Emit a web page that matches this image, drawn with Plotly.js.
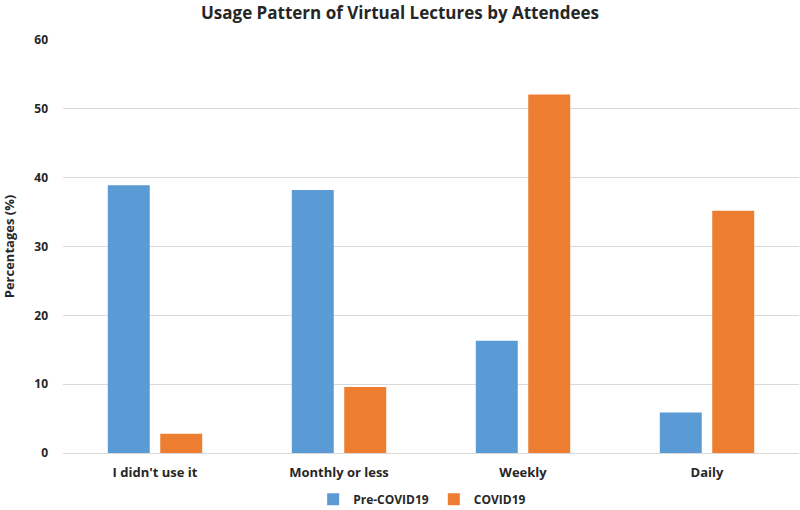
<!DOCTYPE html>
<html>
<head>
<meta charset="utf-8">
<script src="https://cdn.plot.ly/plotly-3.0.1.min.js"></script>
<style>
  html, body { margin: 0; padding: 0; background: #fff; }
  #chart { width: 800px; height: 510px; }
</style>
</head>
<body>
<div id="chart"></div>
<script>
// ---------- data ----------
const categories = ["I didn't use it", "Monthly or less", "Weekly", "Daily"];
const preCovid = [38.9, 38.2, 16.3, 5.9];
const covid = [2.8, 9.6, 52.1, 35.2];
const seriesNames = ["Pre-COVID19", "COVID19"];
const yTicks = [0, 10, 20, 30, 40, 50, 60];

// ---------- style ----------
const fontFam = "'Open Sans', 'Liberation Sans', sans-serif";
const textCol = "#262626";

const traces = [
  {
    type: "bar",
    name: seriesNames[0],
    x: categories,
    y: preCovid,
    marker: { color: "#5B9BD5" }
  },
  {
    type: "bar",
    name: seriesNames[1],
    x: categories,
    y: covid,
    marker: { color: "#ED7D31" }
  }
];

const layout = {
  width: 800,
  height: 510,
  paper_bgcolor: "#fff",
  plot_bgcolor: "#fff",
  margin: { l: 63, r: 1, t: 40, b: 57, autoexpand: false },
  font: { family: fontFam, color: textCol, size: 12 },
  title: {
    text: "Usage Pattern of Virtual Lectures by Attendees",
    x: 0.5,
    xanchor: "center",
    y: 0.975,
    yanchor: "middle",
    font: { family: fontFam, size: 17, weight: "bold", color: textCol }
  },
  barmode: "group",
  bargap: 0.43,
  bargroupgap: 0.2,
  xaxis: {
    type: "category",
    automargin: false,
    showgrid: false,
    showline: false,
    ticks: "",
    ticklabelstandoff: 10,
    tickfont: { size: 13, weight: "bold", color: textCol }
  },
  yaxis: {
    range: [0, 60],
    automargin: false,
    tickvals: yTicks,
    showgrid: true,
    gridcolor: "#D9D9D9",
    gridwidth: 1,
    zeroline: true,
    zerolinecolor: "#D9D9D9",
    zerolinewidth: 1,
    ticks: "",
    ticklabelstandoff: 14,
    tickfont: { size: 12, weight: "bold", color: textCol },
    title: {
      text: "Percentages (%)",
      standoff: 17,
      font: { size: 13, weight: "bold", color: textCol }
    }
  },
  showlegend: true,
  legend: {
    orientation: "h",
    x: 0.488,
    xanchor: "center",
    y: -0.112,
    yanchor: "middle",
    font: { size: 12, weight: "bold", color: textCol },
    itemwidth: 30,
    tracegroupgap: 0
  }
};

Plotly.newPlot("chart", traces, layout, { displayModeBar: false, responsive: false });
</script>
</body>
</html>
